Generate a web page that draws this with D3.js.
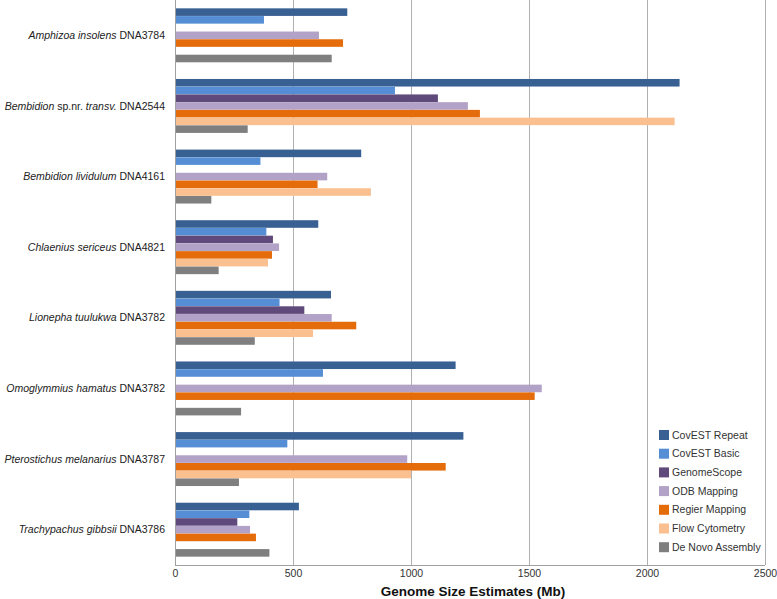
<!DOCTYPE html>
<html>
<head>
<meta charset="utf-8">
<script src="https://cdn.jsdelivr.net/npm/d3@7"></script>
<style>
  body { margin: 0; background: #fff; }
  svg { display: block; font-family: "Liberation Sans", Arial, Helvetica, sans-serif; }
</style>
</head>
<body>
<svg id="chart" width="777" height="599"></svg>
<script>
// ---- data ----
const categories = [
  "Amphizoa insolens DNA3784",
  "Bembidion sp.nr. transv. DNA2544",
  "Bembidion lividulum DNA4161",
  "Chlaenius sericeus DNA4821",
  "Lionepha tuulukwa DNA3782",
  "Omoglymmius hamatus DNA3782",
  "Pterostichus melanarius DNA3787",
  "Trachypachus gibbsii DNA3786"
];
// label parts: [text, italic]
const labelParts = [
  [["Amphizoa insolens", true], [" DNA3784", false]],
  [["Bembidion", true], [" sp.nr. ", false], ["transv.", true], [" DNA2544", false]],
  [["Bembidion lividulum", true], [" DNA4161", false]],
  [["Chlaenius sericeus", true], [" DNA4821", false]],
  [["Lionepha tuulukwa", true], [" DNA3782", false]],
  [["Omoglymmius hamatus", true], [" DNA3782", false]],
  [["Pterostichus melanarius", true], [" DNA3787", false]],
  [["Trachypachus gibbsii", true], [" DNA3786", false]]
];
const seriesNames = ["CovEST Repeat", "CovEST Basic", "GenomeScope", "ODB Mapping", "Regier Mapping", "Flow Cytometry", "De Novo Assembly"];
const seriesColors = ["#386092", "#558ed5", "#604a7b", "#b3a2c7", "#e46c0a", "#fac090", "#7f7f7f"];
const covestRepeat  = [730, 2138, 789, 607, 661, 1189, 1222, 525];
const covestBasic   = [377, 932, 362, 387, 443, 627, 476, 315];
const genomeScope   = [null, 1114, null, 415, 548, null, null, 264];
const odbMapping    = [610, 1241, 645, 441, 664, 1554, 984, 318];
const regierMapping = [712, 1292, 604, 411, 768, 1524, 1147, 343];
const flowCytometry = [null, 2117, 830, 394, 585, null, 1000, null];
const deNovoAssembly= [664, 308, 154, 185, 338, 280, 271, 400];
const tickValues = [0, 500, 1000, 1500, 2000, 2500];
const axisTitle = "Genome Size Estimates (Mb)";

const seriesValues = [covestRepeat, covestBasic, genomeScope, odbMapping, regierMapping, flowCytometry, deNovoAssembly];

// ---- layout ----
const svg = d3.select("#chart");
const mLeft = 175, mRight = 765, mTop = 0, mBottom = 565;

const x = d3.scaleLinear().domain([0, 2500]).range([mLeft, mRight]);
const y0 = d3.scaleBand().domain(categories).range([mTop, mBottom]);
const y1 = d3.scaleBand().domain(seriesNames).range([0, y0.bandwidth()]).paddingOuter(1.08).paddingInner(0.02);

// gridlines
svg.append("g").selectAll("line")
  .data(tickValues.filter(d => d > 0))
  .join("line")
  .attr("x1", d => x(d) + 0.5).attr("x2", d => x(d) + 0.5)
  .attr("y1", mTop).attr("y2", mBottom)
  .attr("stroke", "#b0b0b0").attr("stroke-width", 1);

// bars
const groups = svg.append("g").selectAll("g")
  .data(categories)
  .join("g")
  .attr("transform", d => `translate(0,${y0(d)})`);

groups.selectAll("rect")
  .data((c, i) => seriesNames.map((s, j) => ({ s, v: seriesValues[j][i], color: seriesColors[j] })).filter(d => d.v != null))
  .join("rect")
  .attr("x", x(0))
  .attr("y", d => y1(d.s))
  .attr("width", d => x(d.v) - x(0))
  .attr("height", y1.bandwidth())
  .attr("fill", d => d.color);

// axes lines
svg.append("line").attr("x1", mLeft + 0.5).attr("x2", mLeft + 0.5).attr("y1", mTop).attr("y2", mBottom)
  .attr("stroke", "#a0a0a0").attr("stroke-width", 1);
const xAxis = svg.append("g").attr("transform", `translate(0,${mBottom})`)
  .call(d3.axisBottom(x).tickValues(tickValues).tickFormat(d3.format("d")).tickSize(0).tickPadding(5));
xAxis.select(".domain").attr("stroke", "#a0a0a0").attr("d", `M${mLeft},0.5H${mRight}`);
xAxis.selectAll("text").attr("font-size", "10.5px").attr("fill", "#333")
  .attr("font-family", "'Liberation Sans', Arial, sans-serif");

// axis title
svg.append("text")
  .attr("x", (mLeft + mRight) / 2 + 3)
  .attr("y", 596)
  .attr("text-anchor", "middle")
  .attr("font-size", "13.5px")
  .attr("font-weight", "bold")
  .attr("fill", "#111")
  .text(axisTitle);

// category labels
const lab = svg.append("g").selectAll("text")
  .data(categories)
  .join("text")
  .attr("x", 165)
  .attr("y", d => y0(d) + y0.bandwidth() / 2)
  .attr("dy", "0.35em")
  .attr("text-anchor", "end")
  .attr("font-size", "10.5px")
  .attr("fill", "#222");
lab.each(function(d, i) {
  const t = d3.select(this);
  labelParts[i].forEach(p => {
    t.append("tspan").attr("font-style", p[1] ? "italic" : "normal").text(p[0]);
  });
});

// legend
const legend = svg.append("g").selectAll("g")
  .data(seriesNames)
  .join("g")
  .attr("transform", (d, i) => `translate(659,${435 + i * 18.7})`);
legend.append("rect").attr("x", 0).attr("y", -5).attr("width", 10).attr("height", 10)
  .attr("fill", (d, i) => seriesColors[i]);
legend.append("text").attr("x", 13).attr("y", 0).attr("dy", "0.35em")
  .attr("font-size", "10.5px").attr("fill", "#333").text(d => d);
</script>
</body>
</html>
